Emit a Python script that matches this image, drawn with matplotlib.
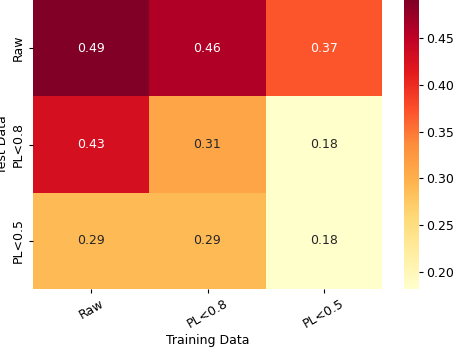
import numpy as np
import matplotlib
matplotlib.use("Agg")
import matplotlib.pyplot as plt
import seaborn as sns

train_labels = ["Raw", "PL<0.8", "PL<0.5"]
test_labels = ["Raw", "PL<0.8", "PL<0.5"]

row_raw = [0.4906, 0.46, 0.37]
row_pl08 = [0.43, 0.31, 0.1818]
row_pl05 = [0.29, 0.29, 0.1818]

values = np.array([row_raw, row_pl08, row_pl05])

fs = 9

fig = plt.figure(figsize=(4.54, 3.48), dpi=100)
ax = fig.add_axes([33 / 454, 1 - 289 / 348, 349 / 454, 289 / 348])
cax = fig.add_axes([404 / 454, 1 - 289 / 348, 15 / 454, 289 / 348])

sns.heatmap(
    values,
    ax=ax,
    cbar_ax=cax,
    cmap="YlOrRd",
    annot=True,
    fmt=".2f",
    xticklabels=train_labels,
    yticklabels=test_labels,
    annot_kws={"fontsize": fs},
)

ax.set_xlabel("Training Data", fontsize=fs, labelpad=2)
ax.set_ylabel("Test Data", fontsize=fs, labelpad=2)
ax.tick_params(length=3, pad=3)
plt.setp(ax.get_xticklabels(), rotation=30, fontsize=fs)
plt.setp(ax.get_yticklabels(), rotation=90, fontsize=fs, va="center")
cax.tick_params(labelsize=fs, length=3, pad=2)

fig.savefig("out.png", dpi=100)
